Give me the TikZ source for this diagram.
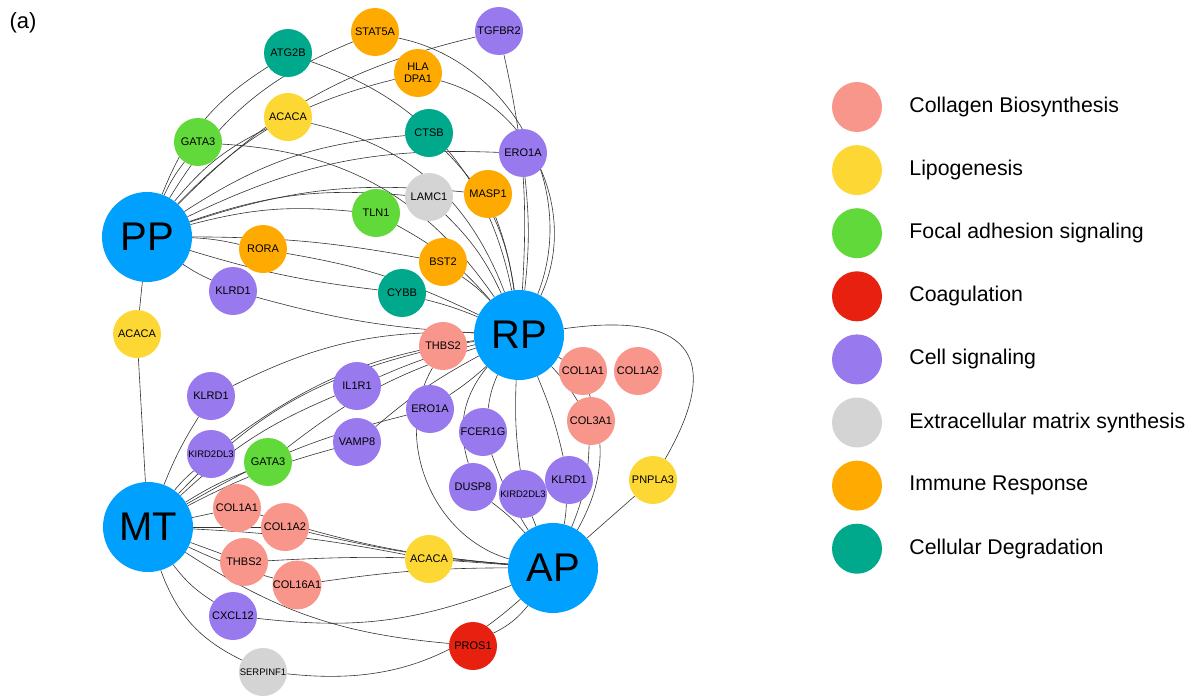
\documentclass[tikz,border=0pt]{standalone}
\usepackage{fontspec}
\setmainfont{Liberation Sans}
\usetikzlibrary{positioning, backgrounds}
\definecolor{collagen}{RGB}{249, 150, 140}
\definecolor{lipo}{RGB}{253, 216, 53}
\definecolor{focal}{RGB}{98, 217, 58}
\definecolor{coag}{RGB}{232, 32, 16}
\definecolor{cellsig}{RGB}{152, 122, 238}
\definecolor{ecm}{RGB}{212, 212, 212}
\definecolor{immune}{RGB}{255, 170, 0}
\definecolor{degrad}{RGB}{0, 168, 140}
\definecolor{hubblue}{RGB}{0, 160, 255}
\tikzset{
  hub/.style={circle, fill=hubblue, minimum size=90pt, inner sep=0pt, font=\fontsize{40}{40}\selectfont},
  gene/.style={circle, minimum size=48pt, inner sep=0pt, font=\fontsize{11}{12}\selectfont},
  small/.style={font=\fontsize{9.5}{10}\selectfont},
  link/.style={draw=black!80, line width=0.6pt},
  legdot/.style={circle, minimum size=50pt, inner sep=0pt},
  legtext/.style={inner sep=0pt, font=\fontsize{21.3}{25}\selectfont}
}

\begin{document}
\begin{tikzpicture}[x=1pt, y=1pt]
    \useasboundingbox (0,0) rectangle (1201,-696);
    \node[anchor=west, font=\fontsize{22}{22}\selectfont] (tag) at (6,-23) {(a)};

    % hubs
    \node[hub] (PP) at (147,-237) {PP};
    \node[hub] (RP) at (519,-335) {RP};
    \node[hub] (MT) at (148,-527) {MT};
    \node[hub] (AP) at (553,-568) {AP};

    % genes between PP and RP
    \node[gene, fill=degrad] (atg) at (288,-53) {ATG2B};
    \node[gene, fill=immune] (stat) at (375,-32) {STAT5A};
    \node[gene, fill=cellsig] (tgf) at (499,-31) {TGFBR2};
    \node[gene, fill=immune, align=center] (hla) at (418,-73) {HLA\\DPA1};
    \node[gene, fill=lipo] (acacaT) at (288,-117) {ACACA};
    \node[gene, fill=focal] (gataT) at (198,-142) {GATA3};
    \node[gene, fill=degrad] (ctsb) at (429,-133) {CTSB};
    \node[gene, fill=cellsig] (eroT) at (523,-153) {ERO1A};
    \node[gene, fill=ecm] (lamc) at (429,-197) {LAMC1};
    \node[gene, fill=immune] (masp) at (488,-194) {MASP1};
    \node[gene, fill=focal] (tln) at (376,-213) {TLN1};
    \node[gene, fill=immune] (rora) at (263,-249) {RORA};
    \node[gene, fill=immune] (bst) at (443,-262) {BST2};
    \node[gene, fill=cellsig] (klrdT) at (233,-291) {KLRD1};
    \node[gene, fill=degrad] (cybb) at (402,-293) {CYBB};

    % gene between PP and MT
    \node[gene, fill=lipo] (acacaV) at (137,-334) {ACACA};

    % genes between MT and RP
    \node[gene, fill=cellsig] (klrdM) at (211,-396) {KLRD1};
    \node[gene, fill=cellsig, small] (kirM) at (211,-454) {KIRD2DL3};
    \node[gene, fill=focal] (gataM) at (268,-462) {GATA3};
    \node[gene, fill=cellsig] (il1) at (357,-386) {IL1R1};
    \node[gene, fill=cellsig] (vamp) at (357,-442) {VAMP8};
    \node[gene, fill=collagen] (thbsR) at (443,-346) {THBS2};
    \node[gene, fill=cellsig] (eroM) at (430,-409) {ERO1A};

    % genes between RP and AP
    \node[gene, fill=cellsig] (fcer) at (483,-432) {FCER1G};
    \node[gene, fill=cellsig] (dusp) at (473,-487) {DUSP8};
    \node[gene, fill=cellsig, small] (kirA) at (523,-494) {KIRD2DL3};
    \node[gene, fill=cellsig] (klrdA) at (569,-480) {KLRD1};
    \node[gene, fill=collagen] (colaR) at (583,-371) {COL1A1};
    \node[gene, fill=collagen] (colbR) at (638,-371) {COL1A2};
    \node[gene, fill=collagen] (col3) at (591,-421) {COL3A1};
    \node[gene, fill=lipo] (pnpla) at (653,-480) {PNPLA3};

    % genes between MT and AP
    \node[gene, fill=collagen] (colaM) at (237,-508) {COL1A1};
    \node[gene, fill=collagen] (colbM) at (285,-527) {COL1A2};
    \node[gene, fill=collagen] (thbsM) at (244,-562) {THBS2};
    \node[gene, fill=collagen] (col16) at (297,-585) {COL16A1};
    \node[gene, fill=cellsig] (cxcl) at (233,-616) {CXCL12};
    \node[gene, fill=ecm, small] (serp) at (263,-672) {SERPINF1};
    \node[gene, fill=lipo] (acacaM) at (429,-559) {ACACA};
    \node[gene, fill=coag] (pros) at (473,-646) {PROS1};

    % links, drawn behind the circles
    \begin{scope}[on background layer]
    % PP side of the upper genes
    \draw[link] (PP) to[bend left=18] (atg);
    \draw[link] (PP) to[bend left=18] (stat);
    \draw[link] (PP) to[bend left=16] (tgf);
    \draw[link] (PP) to[bend left=16] (hla);
    \draw[link] (PP) to[bend left=12] (acacaT);
    \draw[link] (PP) to[bend left=6] (gataT);
    \draw[link] (PP) to[bend left=14] (ctsb);
    \draw[link] (PP) to[bend left=14] (eroT);
    \draw[link] (PP) to[bend left=12] (lamc);
    \draw[link] (PP) to[bend left=12] (masp);
    \draw[link] (PP) to[bend left=10] (tln);
    \draw[link] (PP) to[bend left=5] (rora);
    \draw[link] (PP) to[bend left=5] (bst);
    \draw[link] (PP) to[bend right=5] (klrdT);
    \draw[link] (PP) to[bend right=5] (cybb);
    % RP side of the upper genes
    \draw[link] (atg) to[bend left=30] (RP);
    \draw[link] (stat) to[bend left=50] (RP);
    \draw[link] (tgf) to[bend left=8] (RP);
    \draw[link] (hla) to[bend left=50] (RP);
    \draw[link] (acacaT) to[bend left=28] (RP);
    \draw[link] (gataT) to[bend left=26] (RP);
    \draw[link] (ctsb) to[bend left=18] (RP);
    \draw[link] (eroT) to[bend left=6] (RP);
    \draw[link] (lamc) to[bend left=10] (RP);
    \draw[link] (masp) to[bend left=6] (RP);
    \draw[link] (tln) to[bend left=10] (RP);
    \draw[link] (rora) to[bend left=8] (RP);
    \draw[link] (bst) to[bend left=6] (RP);
    \draw[link] (klrdT) to[bend right=6] (RP);
    \draw[link] (cybb) to[bend left=4] (RP);

    % PP to MT
    \draw[link] (PP) -- (acacaV);
    \draw[link] (acacaV) -- (MT);

    % MT to RP
    \draw[link] (MT) to[bend left=5] (klrdM);
    \draw[link] (klrdM) to[bend left=14] (RP);
    \draw[link] (MT) to[bend left=5] (kirM);
    \draw[link] (kirM) to[bend left=14] (RP);
    \draw[link] (MT) to[bend left=5] (gataM);
    \draw[link] (gataM) to[bend left=10] (RP);
    \draw[link] (MT) to[bend left=10] (il1);
    \draw[link] (il1) to[bend left=5] (RP);
    \draw[link] (MT) to[bend left=6] (vamp);
    \draw[link] (vamp) to[bend left=6] (RP);
    \draw[link] (MT) to[bend left=8] (eroM);
    \draw[link] (eroM) to[bend right=4] (RP);
    \draw[link] (MT) to[bend left=16] (thbsR);
    \draw[link] (thbsR) -- (RP);
    \draw[link] (thbsR) to[bend right=52] (AP);

    % RP to AP
    \draw[link] (RP) to[bend right=8] (fcer);
    \draw[link] (fcer) to[bend right=6] (AP);
    \draw[link] (RP) to[bend right=28] (dusp);
    \draw[link] (dusp) to[bend left=6] (AP);
    \draw[link] (RP) to[bend right=5] (kirA);
    \draw[link] (kirA) -- (AP);
    \draw[link] (RP) to[bend left=5] (klrdA);
    \draw[link] (klrdA) to[bend left=4] (AP);
    \draw[link] (RP) -- (colaR);
    \draw[link] (colaR) to[bend left=24] (AP);
    \draw[link] (RP) to[bend left=6] (col3);
    \draw[link] (col3) to[bend left=10] (AP);
    \draw[link] (RP) to[out=8, in=60, looseness=1.9] (pnpla);
    \draw[link] (pnpla) -- (AP);

    % MT to AP
    \draw[link] (MT) -- (colaM);
    \draw[link] (colaM) to[bend right=6] (AP);
    \draw[link] (MT) -- (colbM);
    \draw[link] (colbM) to[bend right=4] (AP);
    \draw[link] (MT) -- (thbsM);
    \draw[link] (thbsM) to[bend left=4] (AP);
    \draw[link] (MT) to[bend right=5] (col16);
    \draw[link] (col16) to[bend left=4] (AP);
    \draw[link] (MT) to[bend right=10] (cxcl);
    \draw[link] (cxcl) to[bend right=14] (AP);
    \draw[link] (MT) to[bend right=22] (serp);
    \draw[link] (serp) to[bend right=24] (AP);
    \draw[link] (MT) to[bend left=4] (acacaM);
    \draw[link] (acacaM) -- (AP);
    \draw[link] (MT) to[bend right=14] (pros);
    \draw[link] (pros) to[bend right=12] (AP);
    \end{scope}

    % legend
    \node[legdot, fill=collagen] (legA) at (857,-107) {};
    \node[legdot, fill=lipo, below=12.7pt of legA] (legB) {};
    \node[legdot, fill=focal, below=12.7pt of legB] (legC) {};
    \node[legdot, fill=coag, below=12.7pt of legC] (legD) {};
    \node[legdot, fill=cellsig, below=12.7pt of legD] (legE) {};
    \node[legdot, fill=ecm, below=12.7pt of legE] (legF) {};
    \node[legdot, fill=immune, below=12.7pt of legF] (legG) {};
    \node[legdot, fill=degrad, below=12.7pt of legG] (legH) {};
    \node[legtext, right=27pt of legA] (txtA) {Collagen Biosynthesis};
    \node[legtext, right=27pt of legB] (txtB) {Lipogenesis};
    \node[legtext, right=27pt of legC] (txtC) {Focal adhesion signaling};
    \node[legtext, right=27pt of legD] (txtD) {Coagulation};
    \node[legtext, right=27pt of legE] (txtE) {Cell signaling};
    \node[legtext, right=27pt of legF] (txtF) {Extracellular matrix synthesis};
    \node[legtext, right=27pt of legG] (txtG) {Immune Response};
    \node[legtext, right=27pt of legH] (txtH) {Cellular Degradation};
\end{tikzpicture}
\end{document}
